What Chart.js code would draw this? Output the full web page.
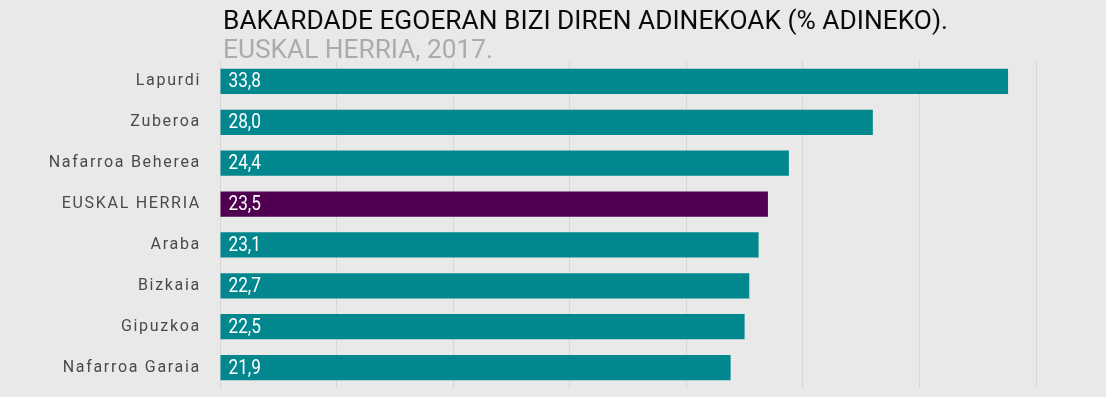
<!DOCTYPE html>
<html>
<head>
<meta charset="utf-8">
<script src="https://cdn.jsdelivr.net/npm/chart.js@4/dist/chart.umd.min.js"></script>
<style>
html,body{margin:0;padding:0;background:#e9e9e9;}
#wrap{width:1106px;height:397px;position:relative;}
</style>
</head>
<body>
<div id="wrap"><canvas id="c" width="1106" height="397"></canvas></div>
<script>
const categories = ["Lapurdi","Zuberoa","Nafarroa Beherea","EUSKAL HERRIA","Araba","Bizkaia","Gipuzkoa","Nafarroa Garaia"];
const values = [33.8, 28.0, 24.4, 23.5, 23.1, 22.7, 22.5, 21.9];
const highlight = "EUSKAL HERRIA";
const titleText = "BAKARDADE EGOERAN BIZI DIREN ADINEKOAK (% ADINEKO).";
const subtitleText = "EUSKAL HERRIA, 2017.";

const TEAL = "#02878e", PURPLE = "#4f0050", GRID = "#d6d6d6";

const spacing = {
  id: "spacing",
  beforeDraw(chart) { chart.ctx.letterSpacing = "1.7px"; },
  beforeDatasetsDraw(chart) { chart.ctx.letterSpacing = "0px"; },
  beforeLayout(chart) { chart.ctx.letterSpacing = "1.7px"; },
  afterLayout(chart) { chart.ctx.letterSpacing = "0px"; }
};

const titlePlugin = {
  id: "titles",
  afterDraw(chart) {
    const ctx = chart.ctx, a = chart.chartArea;
    ctx.save();
    ctx.letterSpacing = "0px";
    ctx.textBaseline = "alphabetic";
    ctx.textAlign = "left";
    function fit(text, font, color, x, y, w) {
      ctx.font = font;
      ctx.fillStyle = color;
      const m = ctx.measureText(text).width;
      ctx.save();
      ctx.translate(x, y);
      ctx.scale(w / m, 1);
      ctx.fillText(text, 0, 0);
      ctx.restore();
    }
    fit(titleText, "25px Roboto", "#0a0a0a", a.left + 3, 28.5, 725);
    fit(subtitleText, "25px Roboto", "#ababab", a.left + 3, 58, 270);
    ctx.restore();
  }
};

const valueLabels = {
  id: "valueLabels",
  afterDatasetsDraw(chart) {
    const ctx = chart.ctx;
    const meta = chart.getDatasetMeta(0);
    ctx.save();
    ctx.letterSpacing = "0px";
    ctx.font = "20px Roboto";
    ctx.fillStyle = "#ffffff";
    ctx.textAlign = "left";
    ctx.textBaseline = "middle";
    meta.data.forEach((bar, i) => {
      const t = values[i].toFixed(1).replace(".", ",");
      ctx.save();
      ctx.translate(bar.base + 8, bar.y + 1);
      ctx.scale(0.86, 1);
      ctx.fillText(t, 0, 0);
      ctx.restore();
    });
    ctx.restore();
  }
};

new Chart(document.getElementById("c"), {
  type: "bar",
  data: {
    labels: categories,
    datasets: [{
      data: values,
      backgroundColor: categories.map(c => c === highlight ? PURPLE : TEAL),
      borderWidth: 0,
      categoryPercentage: 1,
      barPercentage: 0.615
    }]
  },
  options: {
    indexAxis: "y",
    responsive: false,
    animation: false,
    layout: { padding: { top: 61, bottom: 9, left: 0, right: 0 } },
    plugins: { legend: { display: false }, tooltip: { enabled: false }, title: { display: false } },
    scales: {
      x: {
        min: 0, max: 38,
        ticks: { display: false, stepSize: 5 },
        afterBuildTicks(s) { s.ticks = s.ticks.filter(t => t.value % 5 === 0); },
        afterFit(s) { s.height = 0; s.paddingLeft = 0; s.paddingRight = 0; },
        grid: { color: GRID, lineWidth: 1, drawTicks: false },
        border: { display: false }
      },
      y: {
        afterFit(s) { s.width = 220; s.paddingTop = 0; s.paddingBottom = 0; },
        ticks: { color: "#4a4a4a", font: { family: "Roboto", size: 16 }, padding: 19 },
        grid: { display: false, drawTicks: false },
        border: { display: true, color: GRID }
      }
    }
  },
  plugins: [spacing, titlePlugin, valueLabels]
});
</script>
</body>
</html>
